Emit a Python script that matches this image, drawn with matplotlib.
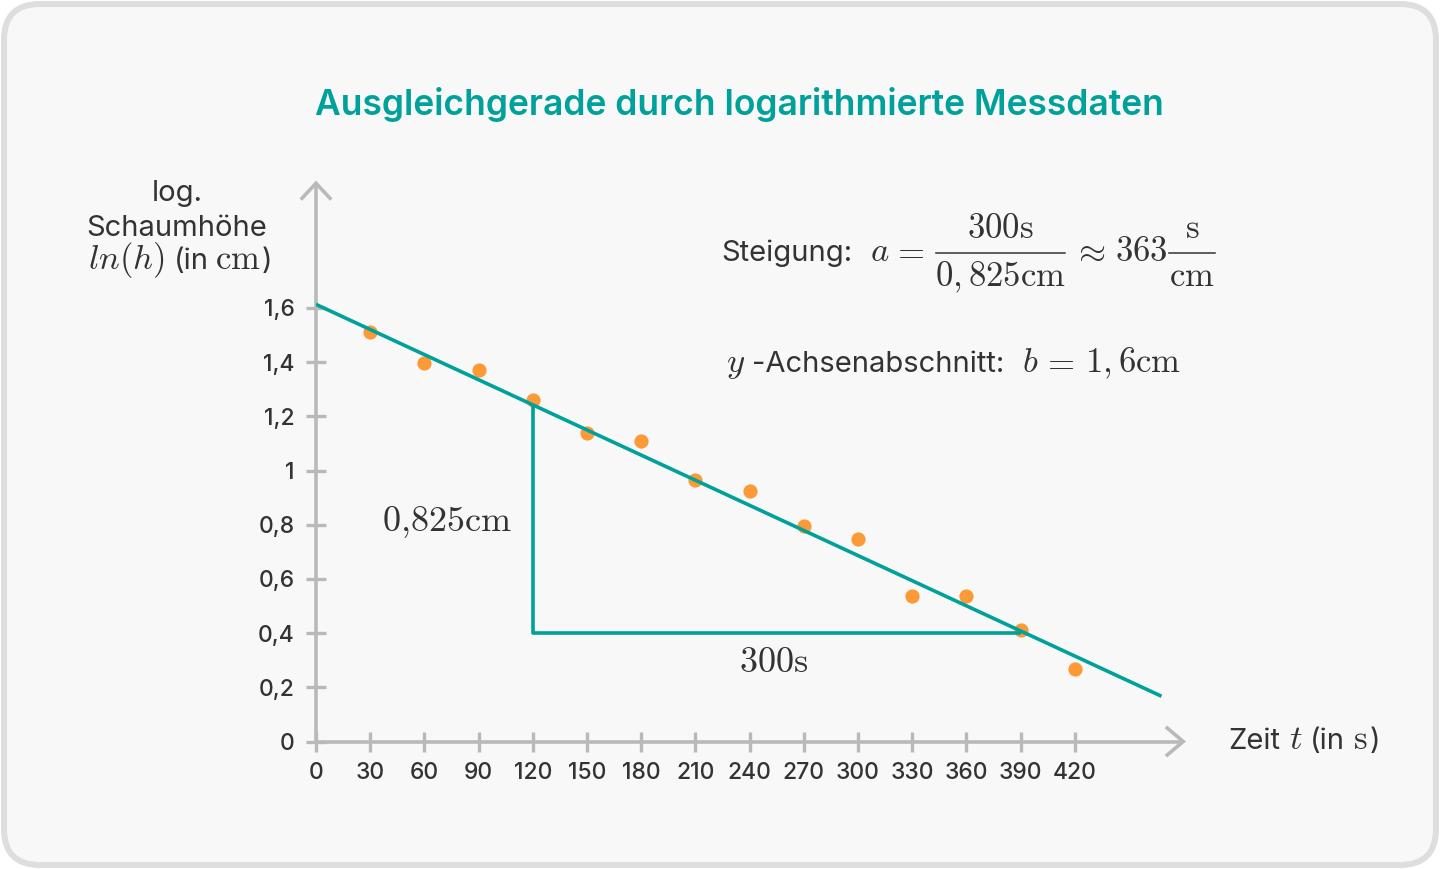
import matplotlib
matplotlib.use("Agg")
import matplotlib.pyplot as plt
from matplotlib.patches import FancyBboxPatch
from matplotlib.lines import Line2D
from matplotlib.transforms import IdentityTransform

plt.rcParams['font.family'] = ['Inter', 'DejaVu Sans']
plt.rcParams['mathtext.fontset'] = 'cm'

# ---------------- data ----------------
t_values = [30, 60, 90, 120, 150, 180, 210, 240, 270, 300, 330, 360, 390, 420]
ln_h = [1.510, 1.396, 1.370, 1.260, 1.139, 1.109, 0.965, 0.924, 0.795, 0.747,
        0.537, 0.537, 0.410, 0.266]
fit_t = [0, 468]
fit_y = [1.613, 0.167]
tri_t = [120, 120, 390]
tri_y = [1.245, 0.40, 0.40]
x_ticks = [0, 30, 60, 90, 120, 150, 180, 210, 240, 270, 300, 330, 360, 390, 420]
y_ticks = [0, 0.2, 0.4, 0.6, 0.8, 1.0, 1.2, 1.4, 1.6]
y_tick_labels = ['0', '0,2', '0,4', '0,6', '0,8', '1', '1,2', '1,4', '1,6']

TEAL = '#00a19b'
ORANGE = '#fd9a38'
GRAY = '#b9b9b9'
DARK = '#333333'

W, H = 1440, 869
fig = plt.figure(figsize=(W / 100, H / 100), dpi=100)
fig.patch.set_facecolor('white')
bg = FancyBboxPatch((4, 4), W - 8, H - 8,
                    boxstyle='round,pad=0,rounding_size=36',
                    transform=IdentityTransform(),
                    fc='#f8f8f8', ec='#dedede', lw=4.3, zorder=-10)
fig.patches.append(bg)

# axes geometry (pixels)
X0, Y0 = 316, 741.5          # origin in pixels (from top)
PX_X = 54.2 / 30             # pixels per second
PX_Y = 271.0                 # pixels per unit
XMAX, YMAX = 480, 2.06
ax = fig.add_axes([X0 / W, (H - Y0) / H, XMAX * PX_X / W, YMAX * PX_Y / H])
ax.set_zorder(1)
ax.set_facecolor('none')
ax.set_xlim(0, XMAX)
ax.set_ylim(0, YMAX)
for s in ['top', 'right']:
    ax.spines[s].set_visible(False)
for s in ['left', 'bottom']:
    ax.spines[s].set_color(GRAY)
    ax.spines[s].set_linewidth(2.6)
    ax.spines[s].set_capstyle('butt')

ax.set_xticks(x_ticks)
ax.set_xticklabels([str(v) for v in x_ticks])
ax.set_yticks(y_ticks)
ax.set_yticklabels(y_tick_labels)
ax.tick_params(direction='inout', length=15, width=2.4, color=GRAY,
               labelsize=16.5, labelcolor=DARK)
ax.tick_params(axis='x', pad=7)
ax.tick_params(axis='y', pad=8)
for lab in ax.get_xticklabels() + ax.get_yticklabels():
    lab.set_fontweight('medium')

# arrow heads
sx, sy = 1 / PX_X, 1 / PX_Y
ax.plot([-14 * sx, 0, 14 * sx], [YMAX - 15 * sy, YMAX, YMAX - 15 * sy],
        color=GRAY, lw=2.6, clip_on=False, solid_joinstyle='miter', zorder=2)
ax.plot([XMAX - 16 * sx, XMAX, XMAX - 16 * sx], [13.5 * sy, 0, -13.5 * sy],
        color=GRAY, lw=2.6, clip_on=False, solid_joinstyle='miter', zorder=2)

# data
ax.scatter(t_values, ln_h, s=105, color=ORANGE, zorder=3, linewidths=0)
ax.plot(fit_t, fit_y, color=TEAL, lw=2.6, zorder=4, solid_capstyle='butt')
ax.plot(tri_t, tri_y, color=TEAL, lw=2.6, zorder=4, solid_capstyle='butt')

# ---------------- text helpers ----------------
renderer = fig.canvas.get_renderer()


def ftxt(x, y, s, size, ha='left', va='baseline', color=DARK, **kw):
    return fig.text(x / W, 1 - y / H, s, fontsize=size, ha=ha, va=va,
                    color=color, **kw)


def hbar(x0, x1, y, lw=1.1):
    fig.add_artist(Line2D([x0 / W, x1 / W], [1 - y / H, 1 - y / H],
                          transform=fig.transFigure, color=DARK, lw=lw))


def row(pieces, x, y, align='left', va='baseline'):
    """pieces: list of (text, size, gap_px_before)"""
    arts = []
    widths = []
    for s, size, gap in pieces:
        a = ftxt(0, y, s, size, va=va)
        bb = a.get_window_extent(renderer)
        widths.append((gap, bb.width))
        arts.append(a)
    total = sum(g + w for g, w in widths)
    start = x if align == 'left' else x - total / 2
    cur = start
    for a, (g, w) in zip(arts, widths):
        cur += g
        a.set_x(cur / W)
        cur += w
    return arts


SANS = 21
MATH = 25

# title
ftxt(739, 105, 'Ausgleichgerade durch logarithmierte Messdaten', 25.5,
     ha='center', va='center', color=TEAL, fontweight='semibold')

# y-axis label
ftxt(177, 201, 'log.', SANS, ha='center')
ftxt(177, 236, 'Schaumhöhe', SANS, ha='center')
row([(r'$ln(h)$', MATH, 0), ('(in', SANS, 9), (r'$\mathrm{cm}$', MATH, 6),
     (')', SANS, 1)], 180, 269, align='center')

# x-axis label
row([('Zeit', SANS, 0), (r'$t$', MATH, 9), ('(in', SANS, 7),
     (r'$\mathrm{s}$', MATH, 9), (')', SANS, 2)], 1228, 749)

# triangle annotations
ftxt(447, 522, r'$\mathrm{0{,}825cm}$', 26, ha='center', va='center')
ftxt(774, 663, r'$\mathrm{300s}$', 26, ha='center', va='center')

# slope
ftxt(721, 261, 'Steigung:', SANS)
ftxt(870, 261, r'$a$', MATH)
ftxt(891, 261, r'$=$', MATH)
hbar(936, 1065, 252.5)
ftxt(1000.5, 238.5, r'$\mathrm{300s}$', MATH, ha='center')
ftxt(1000.5, 286, r'$0,825\mathrm{cm}$', MATH, ha='center')
ftxt(1072, 261, r'$\approx$', MATH)
ftxt(1115, 261, r'$363$', MATH)
hbar(1169, 1215, 252.5)
ftxt(1192, 238.5, r'$\mathrm{s}$', MATH, ha='center')
ftxt(1192, 286, r'$\mathrm{cm}$', MATH, ha='center')

# intercept
row([(r'$y$', MATH, 0), ('-Achsenabschnitt:', SANS, 7),
     (r'$b$', MATH, 18), (r'$=$', MATH, 2), (r'$1,6\mathrm{cm}$', MATH, 11)],
    726, 372)

fig.savefig('out.png', dpi=100, facecolor=fig.get_facecolor())
